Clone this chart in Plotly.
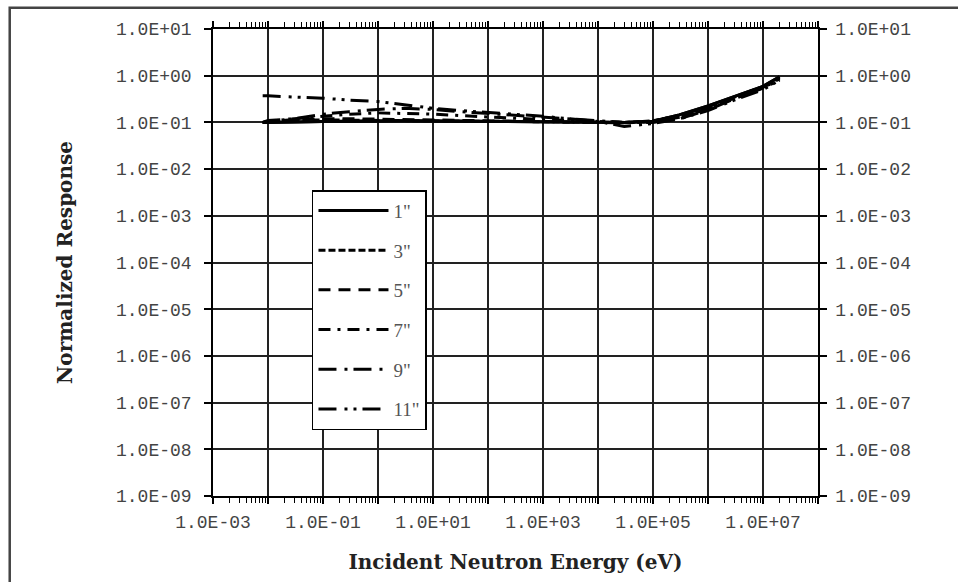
import plotly.graph_objects as go

# Incident neutron energy (eV)
energy = [8e-3, 1e-2, 3e-2, 1e-1, 3e-1, 1e0, 3e0, 1e1, 3e1, 1e2, 3e2, 1e3, 3e3,
          1e4, 3e4, 1e5, 3e5, 1e6, 3e6, 1e7, 2e7]

resp_1in = [0.100, 0.100, 0.102, 0.105, 0.107, 0.108, 0.108, 0.107, 0.106, 0.105, 0.104,
            0.103, 0.102, 0.101, 0.100, 0.106, 0.145, 0.225, 0.36, 0.59, 0.95]
resp_3in = [0.100, 0.102, 0.110, 0.113, 0.112, 0.110, 0.108, 0.107, 0.106, 0.105, 0.104,
            0.103, 0.102, 0.100, 0.100, 0.108, 0.140, 0.215, 0.35, 0.58, 0.92]
resp_5in = [0.100, 0.105, 0.115, 0.120, 0.120, 0.118, 0.115, 0.112, 0.110, 0.108, 0.106,
            0.104, 0.102, 0.100, 0.098, 0.104, 0.132, 0.20, 0.34, 0.56, 0.88]
resp_7in = [0.100, 0.105, 0.120, 0.135, 0.150, 0.160, 0.155, 0.150, 0.140, 0.130, 0.120,
            0.115, 0.110, 0.105, 0.100, 0.103, 0.128, 0.195, 0.33, 0.55, 0.85]
resp_9in = [0.100, 0.110, 0.120, 0.150, 0.170, 0.190, 0.200, 0.190, 0.170, 0.155, 0.140,
            0.130, 0.120, 0.110, 0.100, 0.100, 0.120, 0.185, 0.32, 0.54, 0.80]
resp_11in = [0.370, 0.370, 0.350, 0.330, 0.300, 0.280, 0.240, 0.200, 0.180, 0.165, 0.150,
             0.135, 0.120, 0.105, 0.082, 0.095, 0.118, 0.180, 0.30, 0.50, 0.80]

series_names = ['1"', '3"', '5"', '7"', '9"', '11"']
series_values = [resp_1in, resp_3in, resp_5in, resp_7in, resp_9in, resp_11in]
series_dash = ["solid", "7px,3px", "12px,8px", "12px,7px,3px,7px",
               "18px,8px,3px,6px", "18px,8px,3px,6px,3px,6px"]

x_exps = list(range(-3, 9))
x_ticktext = [("1.0E-%02d" % -e if e < 0 else "1.0E+%02d" % e) if e % 2 != 0 else "" for e in x_exps]
y_exps = list(range(-9, 2))
y_ticktext = ["1.0E-%02d" % -e if e < 0 else "1.0E+%02d" % e for e in y_exps]

minor_vals = [m * 10.0 ** e for e in range(-3, 8) for m in range(2, 10)]

fig = go.Figure()
for i, (name, vals, dash) in enumerate(zip(series_names, series_values, series_dash)):
    fig.add_trace(go.Scatter(
        x=energy, y=vals, name=name, mode="lines",
        line=dict(color="black", width=3, dash=dash),
        legendgroup="g%d" % i,
    ))
# same 1" curve also bound to the right-hand axis so that axis is drawn
fig.add_trace(go.Scatter(
    x=energy, y=resp_1in, yaxis="y2", mode="lines", showlegend=False,
    line=dict(color="black", width=3), hoverinfo="skip",
))

tick_font = dict(family="Liberation Mono", size=18, color="#444")
title_font = dict(family="DejaVu Serif", size=20, color="#222")

fig.update_layout(
    width=958, height=582,
    margin=dict(l=213, r=140, t=29, b=82),
    paper_bgcolor="white", plot_bgcolor="white",
    showlegend=True,
    legend=dict(
        x=0.1636, y=0.655, xanchor="left", yanchor="top",
        bgcolor="white", bordercolor="black", borderwidth=1.5,
        font=dict(family="Liberation Serif", size=19, color="#555"),
        tracegroupgap=12, itemwidth=70,
    ),
    xaxis=dict(
        type="log", range=[-3, 8],
        tickmode="array", tickvals=[10.0 ** e for e in x_exps], ticktext=x_ticktext,
        ticks="outside", ticklen=6, tickwidth=1.5, tickcolor="black",
        showline=True, linecolor="black", linewidth=1.5, mirror="ticks",
        showgrid=True, gridcolor="#222", gridwidth=1.5,
        tickfont=tick_font, ticklabelstandoff=3,
        minor=dict(tickmode="array", tickvals=minor_vals, ticks="outside",
                   ticklen=5, tickwidth=1, tickcolor="black", showgrid=False),
        title=dict(text="<b>Incident Neutron Energy (eV)</b>", font=title_font, standoff=23),
        zeroline=False,
    ),
    yaxis=dict(
        type="log", range=[-9, 1],
        tickmode="array", tickvals=[10.0 ** e for e in y_exps], ticktext=y_ticktext,
        ticks="outside", ticklen=7, tickwidth=1.5, tickcolor="black",
        showline=True, linecolor="black", linewidth=1.5,
        showgrid=True, gridcolor="#222", gridwidth=1.5,
        tickfont=tick_font, ticklabelstandoff=9,
        title=dict(text="<b>Normalized Response</b>", font=title_font, standoff=38),
        zeroline=False,
    ),
    yaxis2=dict(
        type="log", range=[-9, 1], overlaying="y", side="right",
        tickmode="array", tickvals=[10.0 ** e for e in y_exps], ticktext=y_ticktext,
        ticks="outside", ticklen=7, tickwidth=1.5, tickcolor="black",
        showline=True, linecolor="black", linewidth=1.5,
        showgrid=False, tickfont=tick_font, ticklabelstandoff=5,
        zeroline=False,
    ),
    shapes=[dict(type="rect", xref="paper", yref="paper",
                 x0=-0.336, y0=-0.25, x1=1.3, y1=1.0456,
                 line=dict(color="#444", width=2.5), layer="below")],
)

fig.write_html("out.html")
